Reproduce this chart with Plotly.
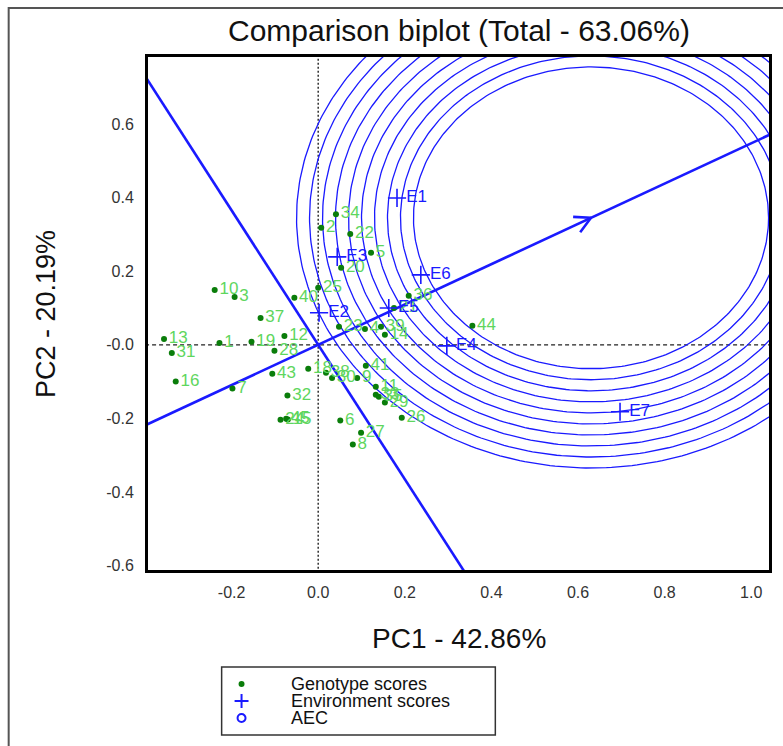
import numpy as np
import plotly.graph_objects as go

# Genotype scores (PC1, PC2)
geno_labels = ["1", "2", "3", "5", "6", "7", "8", "10", "12", "13", "16", "19", "20",
               "21", "22", "25", "26", "27", "28", "31", "32", "34", "36", "37", "40",
               "41", "43", "44", "23", "4", "39", "14", "18", "38", "30", "9", "11",
               "33", "35", "29", "24", "45", "15"]
geno_pc1 = [-0.228, 0.007, -0.193, 0.122, 0.051, -0.198, 0.080, -0.239, -0.078, -0.356,
            -0.329, -0.154, 0.053, 0.175, 0.074, 0.000, 0.193, 0.099, -0.101, -0.338,
            -0.071, 0.041, 0.209, -0.133, -0.055, 0.110, -0.106, 0.356, 0.048, 0.108,
            0.145, 0.154, -0.023, 0.018, 0.032, 0.090, 0.133, 0.133, 0.140, 0.154,
            -0.087, -0.074, -0.070]
geno_pc2 = [0.005, 0.318, 0.130, 0.250, -0.206, -0.119, -0.271, 0.149, 0.024, 0.016,
            -0.100, 0.008, 0.209, 0.100, 0.301, 0.155, -0.198, -0.239, -0.016, -0.022,
            -0.138, 0.355, 0.133, 0.073, 0.128, -0.057, -0.079, 0.052, 0.049, 0.043,
            0.049, 0.027, -0.065, -0.076, -0.090, -0.090, -0.114, -0.136, -0.141, -0.157,
            -0.204, -0.201, -0.203]

# Environment scores (PC1, PC2)
env_labels = ["E1", "E2", "E3", "E4", "E5", "E6", "E7"]
env_pc1 = [0.182, 0.002, 0.044, 0.297, 0.163, 0.237, 0.697]
env_pc2 = [0.399, 0.087, 0.239, -0.003, 0.100, 0.190, -0.182]

# Ideal genotype on the average-environment axis and the comparison rings around it
aec_point = (0.630, 0.345)
circle_radii = [0.41, 0.44, 0.47, 0.50, 0.53, 0.56, 0.59, 0.62, 0.65, 0.68]

x_tickvals = [-0.2, 0.0, 0.2, 0.4, 0.6, 0.8, 1.0]
x_ticktext = ["-0.2", "0.0", "0.2", "0.4", "0.6", "0.8", "1.0"]
y_tickvals = [-0.6, -0.4, -0.2, 0.0, 0.2, 0.4, 0.6]
y_ticktext = ["-0.6", "-0.4", "-0.2", "-0.0", "0.2", "0.4", "0.6"]

x_range = [-0.393, 1.041]
y_range = [-0.612, 0.782]

W, H = 783, 746
ML, MR, MT, MB = 148, 11, 57, 176
plot_w = W - ML - MR
plot_h = H - MT - MB
sx = plot_w / (x_range[1] - x_range[0])
sy = plot_h / (y_range[1] - y_range[0])

FONT = "Liberation Sans, Arial, sans-serif"
BLUE = "#1a1aff"
DARK_GREEN = "#0a7d0a"
LIGHT_GREEN = "#5ed65e"

fig = go.Figure()

# reference axes through the origin
fig.add_trace(go.Scatter(x=[0, 0], y=[-2, 2], mode="lines",
                         line=dict(color="#222", width=1.4, dash="2px,2px"),
                         hoverinfo="skip", showlegend=False))
fig.add_trace(go.Scatter(x=[-2, 2], y=[0, 0], mode="lines",
                         line=dict(color="#222", width=1.2, dash="4px,3px"),
                         hoverinfo="skip", showlegend=False))

# concentric rings
theta = np.linspace(0, 2 * np.pi, 361)
cx, cy = aec_point
for r in circle_radii:
    fig.add_trace(go.Scatter(x=cx + r * np.cos(theta), y=cy + r * np.sin(theta),
                             mode="lines", line=dict(color=BLUE, width=1.3),
                             hoverinfo="skip", showlegend=False))

# average-environment axis and its perpendicular through the origin
t = np.array([-4.0, 4.0])
fig.add_trace(go.Scatter(x=t * cx, y=t * cy, mode="lines",
                         line=dict(color=BLUE, width=2.6),
                         hoverinfo="skip", showlegend=False))
fig.add_trace(go.Scatter(x=-t * cy, y=t * cx, mode="lines",
                         line=dict(color=BLUE, width=2.6),
                         hoverinfo="skip", showlegend=False))

# open arrow head at the ideal point, built in pixel space
d = np.array([cx * sx, cy * sy])
d = d / np.linalg.norm(d)
wing_len = 18.0
ang = np.deg2rad(28)
wx, wy = [], []
for s in (1, -1):
    c, si = np.cos(s * ang), np.sin(s * ang)
    rx = d[0] * c - d[1] * si
    ry = d[0] * si + d[1] * c
    wx.append(cx - wing_len * rx / sx)
    wy.append(cy - wing_len * ry / sy)
fig.add_trace(go.Scatter(x=[wx[0], cx, wx[1]], y=[wy[0], cy, wy[1]], mode="lines",
                         line=dict(color=BLUE, width=2.6),
                         hoverinfo="skip", showlegend=False))

# genotypes
fig.add_trace(go.Scatter(x=geno_pc1, y=geno_pc2, mode="markers+text",
                         text=geno_labels, textposition="middle right",
                         textfont=dict(family=FONT, size=17, color=LIGHT_GREEN),
                         marker=dict(color=DARK_GREEN, size=6),
                         cliponaxis=True, showlegend=False))

# environments
fig.add_trace(go.Scatter(x=env_pc1, y=env_pc2, mode="markers+text",
                         text=env_labels, textposition="middle right",
                         textfont=dict(family=FONT, size=17, color=BLUE),
                         marker=dict(symbol="cross-thin", size=13,
                                     line=dict(color=BLUE, width=1.6)),
                         cliponaxis=True, showlegend=False))


def px_x(p):
    return (p - ML) / plot_w


def px_y(p):
    return (H - MB - p) / plot_h


annotations = [
    dict(text="Comparison biplot (Total - 63.06%)", x=0.5, y=px_y(30),
         xref="paper", yref="paper", showarrow=False, yanchor="middle",
         font=dict(family=FONT, size=30, color="#111")),
    dict(text="PC1 - 42.86%", x=0.5, y=px_y(638), xref="paper", yref="paper",
         showarrow=False, yanchor="middle",
         font=dict(family=FONT, size=28, color="#111")),
    dict(text="PC2 - 20.19%", x=px_x(45), y=0.5, xref="paper", yref="paper",
         showarrow=False, textangle=-90, xanchor="center",
         font=dict(family=FONT, size=27, color="#111")),
]

# hand-built legend box
legend_rows = [("Genotype scores", 684), ("Environment scores", 701), ("AEC", 718)]
for label, yy in legend_rows:
    annotations.append(dict(text=label, x=px_x(290), y=px_y(yy), xref="paper",
                            yref="paper", showarrow=False, xanchor="left",
                            yanchor="middle",
                            font=dict(family=FONT, size=18, color="#111")))

shapes = [
    # outer frame of the figure
    dict(type="rect", xref="paper", yref="paper", x0=px_x(8), x1=px_x(800),
         y0=px_y(780), y1=px_y(8), line=dict(color="#555", width=2)),
    # legend box
    dict(type="rect", xref="paper", yref="paper", x0=px_x(222), x1=px_x(497),
         y0=px_y(735), y1=px_y(667), line=dict(color="#333", width=1.5),
         fillcolor="white"),
    # genotype dot
    dict(type="circle", xref="paper", yref="paper", x0=px_x(239), x1=px_x(245),
         y0=px_y(687), y1=px_y(681), fillcolor=DARK_GREEN,
         line=dict(color=DARK_GREEN, width=0)),
    # environment cross
    dict(type="line", xref="paper", yref="paper", x0=px_x(235), x1=px_x(249),
         y0=px_y(701), y1=px_y(701), line=dict(color=BLUE, width=2)),
    dict(type="line", xref="paper", yref="paper", x0=px_x(242), x1=px_x(242),
         y0=px_y(708), y1=px_y(694), line=dict(color=BLUE, width=2)),
    # AEC ring
    dict(type="circle", xref="paper", yref="paper", x0=px_x(238), x1=px_x(246),
         y0=px_y(722), y1=px_y(714), line=dict(color=BLUE, width=2)),
]

fig.update_layout(
    width=W, height=H,
    margin=dict(l=ML, r=MR, t=MT, b=MB),
    paper_bgcolor="white", plot_bgcolor="white",
    showlegend=False,
    annotations=annotations,
    shapes=shapes,
    font=dict(family=FONT),
)
fig.update_xaxes(range=x_range, tickvals=x_tickvals, ticktext=x_ticktext,
                 showgrid=False, zeroline=False, ticks="",
                 tickfont=dict(family=FONT, size=16, color="#333"),
                 showline=True, mirror=True, linecolor="black", linewidth=3,
                 ticklabelstandoff=6)
fig.update_yaxes(range=y_range, tickvals=y_tickvals, ticktext=y_ticktext,
                 showgrid=False, zeroline=False, ticks="",
                 tickfont=dict(family=FONT, size=16, color="#333"),
                 showline=True, mirror=True, linecolor="black", linewidth=3,
                 ticklabelstandoff=8)

fig.write_html("out.html")
